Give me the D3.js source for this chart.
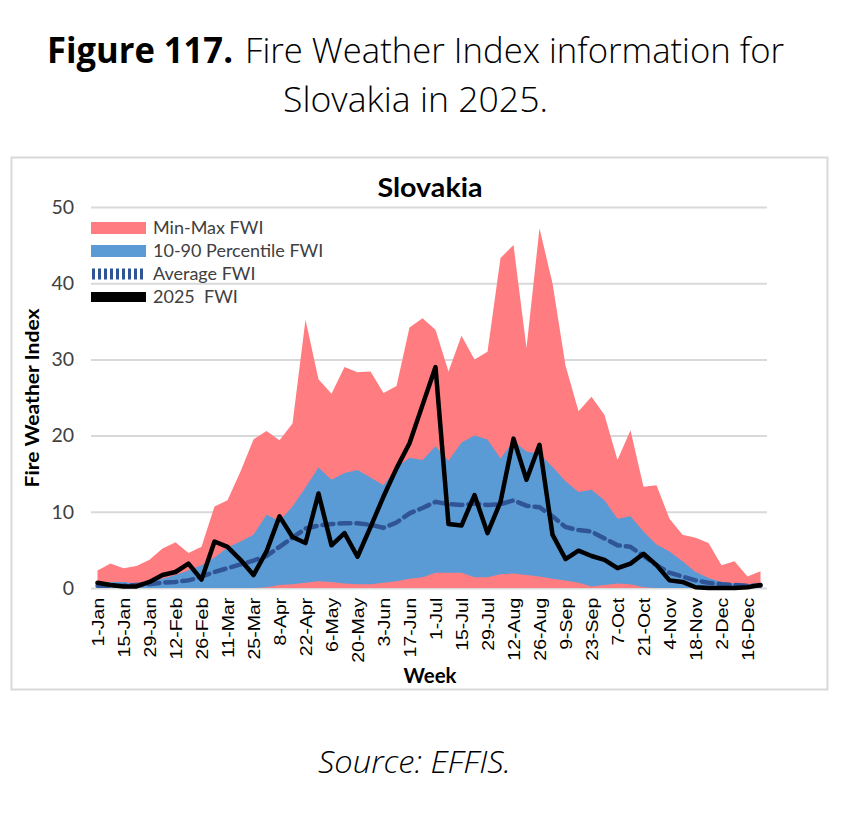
<!DOCTYPE html>
<html>
<head>
<meta charset="utf-8">
<script src="https://cdn.jsdelivr.net/npm/d3@7"></script>
<style>
  body { margin: 0; background: #fff; }
  svg { display: block; }
</style>
</head>
<body>
<div id="chart"></div>
<script>
// weekly categories (only every second one is labelled on the axis)
var weeks = ["1-Jan","8-Jan","15-Jan","22-Jan","29-Jan","5-Feb","12-Feb","19-Feb","26-Feb","4-Mar",
  "11-Mar","18-Mar","25-Mar","1-Apr","8-Apr","15-Apr","22-Apr","29-Apr","6-May","13-May",
  "20-May","27-May","3-Jun","10-Jun","17-Jun","24-Jun","1-Jul","8-Jul","15-Jul","22-Jul",
  "29-Jul","5-Aug","12-Aug","19-Aug","26-Aug","2-Sep","9-Sep","16-Sep","23-Sep","30-Sep",
  "7-Oct","14-Oct","21-Oct","28-Oct","4-Nov","11-Nov","18-Nov","25-Nov","2-Dec","9-Dec",
  "16-Dec","23-Dec"];

var maxFWI = [2.3,3.2,2.6,2.9,3.7,5.2,6.0,4.6,5.4,10.7, 11.5,15.3,19.5,20.6,19.4,21.6,35.2,27.4,25.5,29.0,
  28.3,28.4,25.6,26.5,34.2,35.4,33.9,28.4,33.1,30.0, 31.0,43.3,45.0,31.5,47.2,40.0,29.2,23.2,25.1,22.7,
  16.8,20.7,13.3,13.5,9.1,7.0,6.6,5.9,3.0,3.5, 1.5,2.2];

var minFWI = [0,0,0,0,0,0,0,0,0,0, 0,0,0,0,0,0,0,0,0,0,
  0,0,0,0,0,0,0,0,0,0, 0,0,0,0,0,0,0,0,0,0,
  0,0,0,0,0,0,0,0,0,0, 0,0];

var p90FWI = [0.7,0.8,0.8,0.6,0.9,1.2,1.7,2.3,3.0,4.0, 5.3,6.1,7.0,9.6,8.8,10.7,13.2,15.8,14.2,15.1,
  15.5,14.5,13.5,15.8,17.1,16.8,18.6,16.7,19.1,20.0, 19.5,17.0,19.3,17.9,17.6,15.9,14.0,12.6,12.9,11.5,
  9.1,9.4,7.4,5.7,4.8,3.5,2.1,1.3,0.8,0.6, 0.5,0.6];

var p10FWI = [0,0,0,0,0,0,0,0,0,0, 0,0,0,0.1,0.4,0.5,0.7,0.9,0.8,0.6,
  0.5,0.5,0.7,0.9,1.2,1.4,2.0,2.0,2.0,1.4, 1.4,1.8,1.9,1.7,1.5,1.2,1.0,0.7,0.2,0.4,
  0.6,0.5,0.1,0,0,0,0,0,0,0, 0,0];

var avgFWI = [0.3,0.3,0.3,0.4,0.5,0.7,0.8,1.0,1.5,2.1, 2.6,3.1,3.6,4.2,5.4,6.6,7.8,8.2,8.4,8.5,
  8.5,8.3,7.9,8.6,9.8,10.5,11.3,11.0,10.9,11.1, 10.9,11.0,11.5,10.8,10.6,9.4,8.0,7.6,7.4,6.5,
  5.6,5.4,4.2,3.0,2.0,1.5,1.0,0.7,0.5,0.4, 0.3,0.3];

var fwi2025 = [0.7,0.4,0.2,0.2,0.8,1.7,2.1,3.2,1.1,6.1, 5.4,3.7,1.7,4.8,9.4,6.7,5.9,12.4,5.6,7.2,
  4.1,8.0,12.0,15.7,19.0,24.0,29.0,8.4,8.2,12.2, 7.2,11.3,19.6,14.2,18.8,7.0,3.8,4.9,4.2,3.7,
  2.6,3.2,4.5,3.0,1.0,0.8,0.1,0,0,0, 0.1,0.4];

var yTicks = [0, 10, 20, 30, 40, 50];

var legendItems = ["Min-Max FWI", "10-90 Percentile FWI", "Average FWI", "2025  FWI"];

var W = 852, H = 815;
var plot = { left: 91, right: 767, top: 207, bottom: 588 };

var svg = d3.select("#chart").append("svg")
  .attr("width", W)
  .attr("height", H);

svg.append("rect").attr("width", W).attr("height", H).attr("fill", "#fff");

// figure caption
var capFont = "'Open Sans', 'DejaVu Sans', sans-serif";
svg.append("text")
  .attr("x", 47).attr("y", 63)
  .attr("font-family", capFont).attr("font-weight", "bold").attr("font-size", 35)
  .attr("textLength", 186).attr("lengthAdjust", "spacingAndGlyphs")
  .text("Figure 117.");
svg.append("text")
  .attr("x", 245).attr("y", 63)
  .attr("font-family", capFont).attr("font-weight", 300).attr("font-size", 35)
  .attr("textLength", 539).attr("lengthAdjust", "spacingAndGlyphs")
  .text("Fire Weather Index information for");
svg.append("text")
  .attr("x", 283).attr("y", 112)
  .attr("font-family", capFont).attr("font-weight", 300).attr("font-size", 35)
  .attr("textLength", 265).attr("lengthAdjust", "spacingAndGlyphs")
  .text("Slovakia in 2025.");
svg.append("text")
  .attr("x", 318).attr("y", 773)
  .attr("font-family", capFont).attr("font-weight", 300).attr("font-style", "italic").attr("font-size", 31)
  .attr("textLength", 193).attr("lengthAdjust", "spacingAndGlyphs")
  .text("Source: EFFIS.");

// chart frame
svg.append("rect")
  .attr("x", 11.5).attr("y", 157.5)
  .attr("width", 816).attr("height", 532)
  .attr("fill", "none")
  .attr("stroke", "#d9d9d9")
  .attr("stroke-width", 2);

var x = d3.scalePoint()
  .domain(weeks)
  .range([plot.left, plot.right])
  .padding(0.5);

var y = d3.scaleLinear()
  .domain([0, 50])
  .range([plot.bottom, plot.top]);

var chartFont = "Lato, 'Open Sans', sans-serif";

// y axis with gridlines
var yAxis = svg.append("g")
  .attr("transform", "translate(" + plot.left + ",0)")
  .call(d3.axisLeft(y).tickValues(yTicks)
    .tickSize(-(plot.right - plot.left))
    .tickPadding(17));
yAxis.select(".domain").remove();
yAxis.selectAll("line").attr("stroke", "#d9d9d9").attr("stroke-width", 2);
yAxis.selectAll("text")
  .attr("font-family", chartFont)
  .attr("font-size", 19.5)
  .attr("fill", "#404040");

// min-max band
svg.append("path")
  .datum(weeks)
  .attr("fill", "#ff7c80")
  .attr("d", d3.area()
    .x(function(d) { return x(d); })
    .y0(function(d, i) { return y(minFWI[i]); })
    .y1(function(d, i) { return y(maxFWI[i]); }));

// 10-90 percentile band
svg.append("path")
  .datum(weeks)
  .attr("fill", "#5b9bd5")
  .attr("d", d3.area()
    .x(function(d) { return x(d); })
    .y0(function(d, i) { return y(p10FWI[i]); })
    .y1(function(d, i) { return y(p90FWI[i]); }));

// average
svg.append("path")
  .datum(weeks)
  .attr("fill", "none")
  .attr("stroke", "#2f5597")
  .attr("stroke-width", 4.5)
  .attr("stroke-dasharray", "11,6")
  .attr("stroke-linecap", "round")
  .attr("d", d3.line()
    .x(function(d) { return x(d); })
    .y(function(d, i) { return y(avgFWI[i]); }));

// 2025
svg.append("path")
  .datum(weeks)
  .attr("fill", "none")
  .attr("stroke", "#000")
  .attr("stroke-width", 4.5)
  .attr("stroke-linejoin", "round")
  .attr("stroke-linecap", "round")
  .attr("d", d3.line()
    .x(function(d) { return x(d); })
    .y(function(d, i) { return y(fwi2025[i]); }));

// x axis labels, every second week
var xAxis = svg.append("g")
  .attr("transform", "translate(0," + plot.bottom + ")")
  .call(d3.axisBottom(x)
    .tickValues(weeks.filter(function(d, i) { return i % 2 === 0; }))
    .tickSize(0));
xAxis.select(".domain").remove();
xAxis.selectAll("text")
  .attr("font-family", "'Liberation Sans', Arial, sans-serif")
  .attr("font-size", 16)
  .attr("fill", "#000")
  .attr("y", 0)
  .attr("x", -8)
  .attr("dy", "0.35em")
  .attr("text-anchor", "end")
  .attr("transform", "rotate(-90) scale(1.22,1)");

// titles
svg.append("text")
  .attr("x", 430).attr("y", 197)
  .attr("text-anchor", "middle")
  .attr("font-family", chartFont)
  .attr("font-weight", "bold")
  .attr("font-size", 26)
  .attr("textLength", 105).attr("lengthAdjust", "spacingAndGlyphs")
  .text("Slovakia");

svg.append("text")
  .attr("x", 430).attr("y", 683)
  .attr("text-anchor", "middle")
  .attr("font-family", chartFont)
  .attr("font-weight", "bold")
  .attr("font-size", 20)
  .attr("textLength", 53).attr("lengthAdjust", "spacingAndGlyphs")
  .text("Week");

svg.append("text")
  .attr("transform", "translate(39,398) rotate(-90)")
  .attr("text-anchor", "middle")
  .attr("font-family", chartFont)
  .attr("font-weight", "bold")
  .attr("font-size", 18)
  .attr("textLength", 179).attr("lengthAdjust", "spacingAndGlyphs")
  .text("Fire Weather Index");

// legend
var legend = svg.append("g").attr("transform", "translate(91,228)");
var rowH = 23;
legend.append("rect").attr("x", 0).attr("y", -6).attr("width", 55).attr("height", 12).attr("fill", "#ff7c80");
legend.append("rect").attr("x", 0).attr("y", rowH - 6).attr("width", 55).attr("height", 12).attr("fill", "#5b9bd5");
legend.append("line")
  .attr("x1", 1).attr("x2", 55).attr("y1", rowH * 2).attr("y2", rowH * 2)
  .attr("stroke", "#2f5597").attr("stroke-width", 11).attr("stroke-dasharray", "3,3");
legend.append("rect").attr("x", 0).attr("y", rowH * 3 - 5).attr("width", 55).attr("height", 10).attr("fill", "#000");
legend.selectAll("text.lg")
  .data(legendItems)
  .enter()
  .append("text")
  .attr("class", "lg")
  .attr("x", 62)
  .attr("y", function(d, i) { return i * rowH; })
  .attr("dy", "0.35em")
  .attr("font-family", chartFont)
  .attr("font-size", 18)
  .attr("fill", "#404040")
  .style("white-space", "pre")
  .text(function(d) { return d; });
</script>
</body>
</html>
